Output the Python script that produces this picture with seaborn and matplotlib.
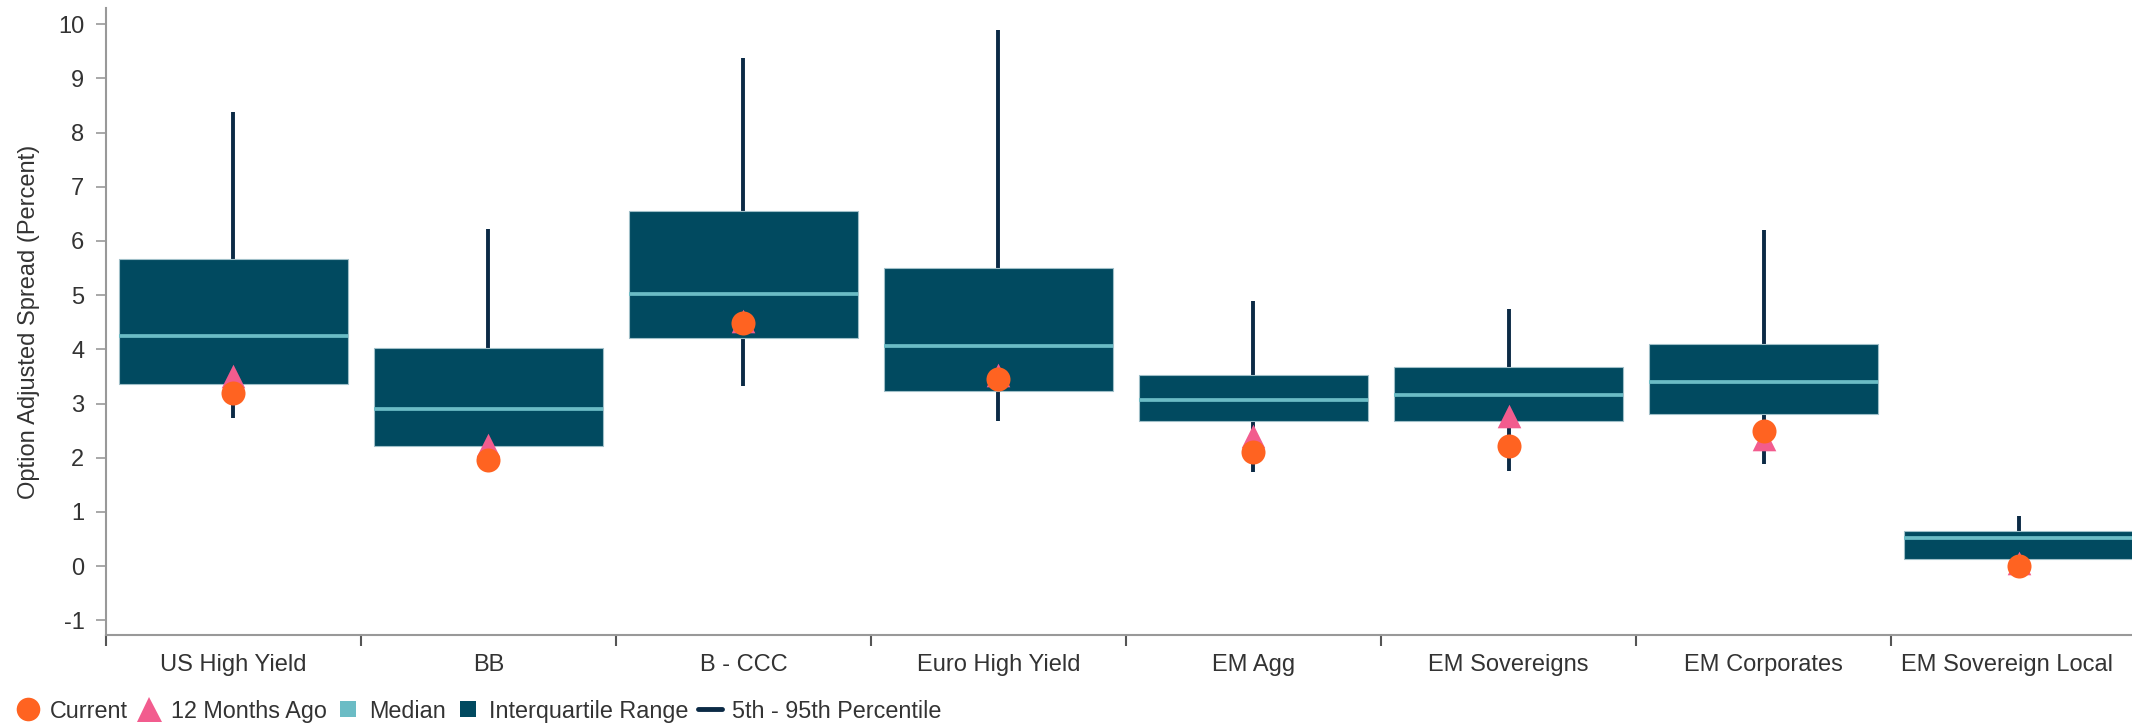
import numpy as np
import pandas as pd
import matplotlib
matplotlib.use("Agg")
import matplotlib.pyplot as plt
from matplotlib.lines import Line2D
from matplotlib.transforms import ScaledTranslation
import seaborn as sns

# Values (percent)
categories = ["US High Yield", "BB", "B - CCC", "Euro High Yield",
              "EM Agg", "EM Sovereigns", "EM Corporates", "EM Sovereign Local"]
pct95 = [8.38, 6.23, 9.38, 9.90, 4.90, 4.75, 6.20, 0.92]
q3 = [5.67, 4.03, 6.55, 5.51, 3.52, 3.67, 4.09, 0.65]
median = [4.25, 2.90, 5.02, 4.06, 3.07, 3.15, 3.39, 0.51]
q1 = [3.37, 2.22, 4.21, 3.23, 2.67, 2.67, 2.80, 0.13]
pct5 = [2.74, 1.73, 3.32, 2.67, 1.73, 1.76, 1.89, 0.05]
current = [3.19, 1.96, 4.49, 3.45, 2.11, 2.22, 2.49, 0.00]
months_ago = [3.50, 2.23, 4.52, 3.53, 2.41, 2.77, 2.34, 0.06]

df = pd.DataFrame({"category": categories, "p95": pct95, "q3": q3,
                   "median": median, "q1": q1, "p5": pct5,
                   "current": current, "ago": months_ago})
df["iqr"] = df["q3"] - df["q1"]

box_c = "#014a60"
median_c = "#6bbcc5"
whisker_c = "#0b2a45"
current_c = "#ff6321"
ago_c = "#f25c8e"
text_c = "#333333"
spine_c = "#999999"
fs = 17

sns.set_theme(style="white")
plt.rcParams["font.family"] = ["Liberation Sans", "DejaVu Sans"]
plt.rcParams["axes.unicode_minus"] = False

fig = plt.figure(figsize=(21.32, 7.24), dpi=100)
ax = fig.add_axes([0.0497, 0.123, 0.9503, 0.866])

# Interquartile range boxes
sns.barplot(data=df, x="category", y="iqr", bottom=df["q1"].values,
            color=box_c, saturation=1, width=0.9, errorbar=None,
            edgecolor="#9fbfc8", linewidth=0.8, zorder=2, ax=ax)

pos = np.arange(len(categories))
# 5th - 95th percentile whiskers behind the boxes
ax.vlines(pos, df["p5"], df["p95"], color=whisker_c, lw=2.8, zorder=1)
# medians
ax.hlines(df["median"], pos - 0.45, pos + 0.45, color=median_c, lw=2.7, zorder=3)

# 12 months ago and current markers
sns.stripplot(data=df, x="category", y="ago", marker="^", color=ago_c,
              size=17, jitter=False, linewidth=0, zorder=4, ax=ax)
sns.stripplot(data=df, x="category", y="current", marker="o", color=current_c,
              size=17.3, jitter=False, linewidth=0, zorder=5, ax=ax)

ax.set_yticks(range(-1, 11))
ax.set_xticks(pos)
ax.set_xticklabels(categories)
ax.set_xticks(np.arange(-0.5, 7, 1), minor=True)
ax.set_xlim(-0.5, 7.445)
ax.set_ylim(-1.27, 10.3)

ax.tick_params(axis="x", which="major", length=0, pad=14, labelsize=fs, labelcolor=text_c)
ax.tick_params(axis="x", which="minor", length=8, width=1.5, color="#555555", bottom=True)
ax.tick_params(axis="y", length=7.5, width=1.2, color=spine_c, pad=8,
               labelsize=fs, labelcolor=text_c, left=True)

# last label sits against the right edge in the original
last = ax.get_xticklabels()[-1]
last.set_transform(last.get_transform() + ScaledTranslation(-12 / 100, 0, fig.dpi_scale_trans))

ax.set_xlabel("")
ax.set_ylabel("Option Adjusted Spread (Percent)", fontsize=fs, color=text_c, labelpad=13)

for side in ["top", "right"]:
    ax.spines[side].set_visible(False)
for side in ["left", "bottom"]:
    ax.spines[side].set_color(spine_c)
    ax.spines[side].set_linewidth(1.5)

handles = [
    Line2D([], [], ls="none", marker="o", ms=17, color=current_c, mew=0),
    Line2D([], [], ls="none", marker="^", ms=18, color=ago_c, mew=0),
    Line2D([], [], ls="none", marker="s", ms=12, color=median_c, mew=0),
    Line2D([], [], ls="none", marker="s", ms=12, color=box_c, mew=0),
    Line2D([], [], color=whisker_c, lw=3.5),
]
labels = ["Current", "12 Months Ago", "Median", "Interquartile Range", "5th - 95th Percentile"]
fig.legend(handles, labels, loc="lower left", bbox_to_anchor=(-0.002, -0.027), ncol=5,
           frameon=False, fontsize=16.8, handlelength=1.0, handletextpad=0.42,
           columnspacing=0.42, labelcolor=text_c)

fig.savefig("out.png", dpi=100)
